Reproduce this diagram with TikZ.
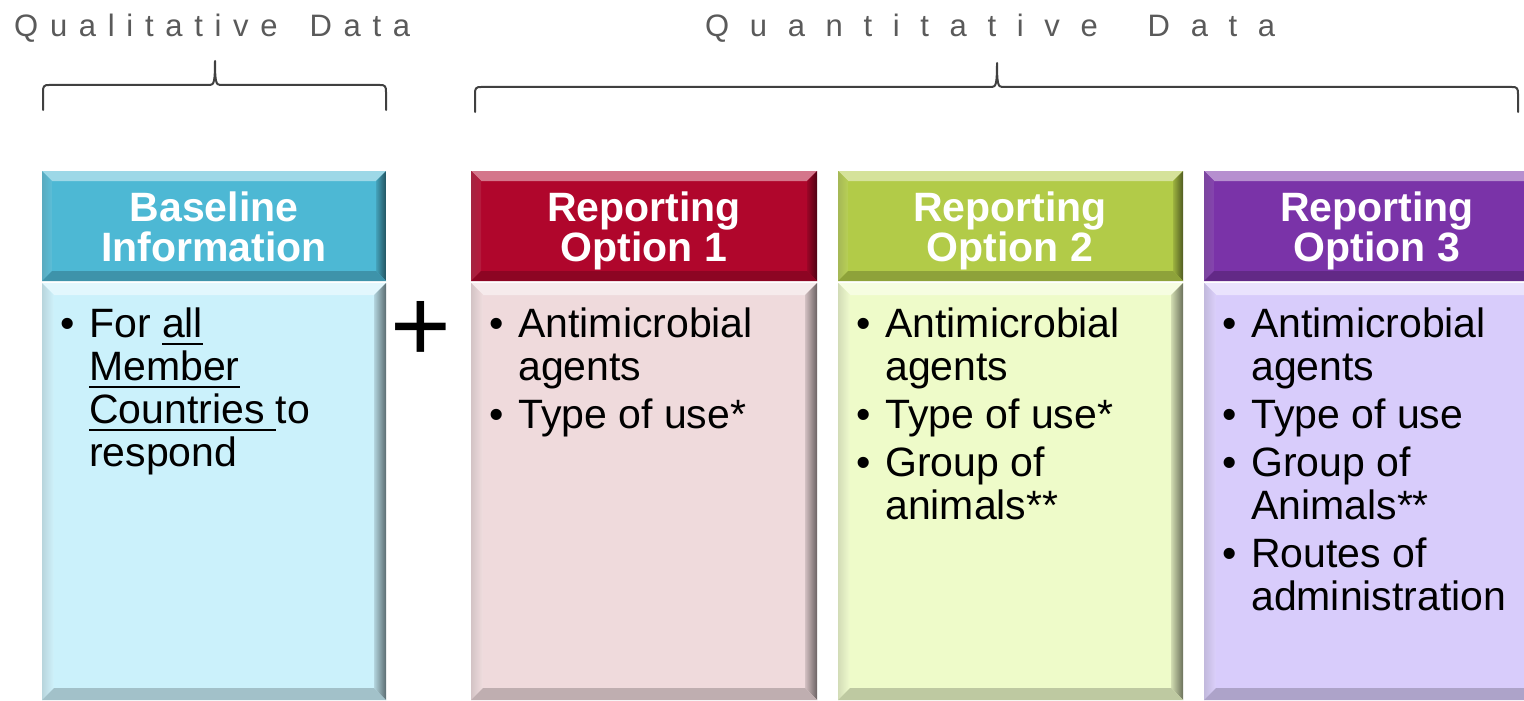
\documentclass[tikz,border=0pt]{standalone}
\usepackage{fontspec}
\setmainfont{Liberation Sans}
\definecolor{titlegray}{HTML}{5A5A5A}
\definecolor{bracegray}{HTML}{404040}
\definecolor{cyanH}{HTML}{4DB8D4}
\definecolor{cyanB}{HTML}{CBF1FB}
\definecolor{redH}{HTML}{B0062C}
\definecolor{redB}{HTML}{EFDADC}
\definecolor{greenH}{HTML}{B2CB48}
\definecolor{greenB}{HTML}{EEFBC9}
\definecolor{purpH}{HTML}{7A33A8}
\definecolor{purpB}{HTML}{D8CCFB}
\newcommand\myul[1]{\setbox0\hbox{#1}\rlap{\rule[-8pt]{\wd0}{2.5pt}}\box0}
% bevelled panel: x1,y1,x2,y2,colour,bevel
\newcommand\bevpanel[6]{%
 \fill[#5] (#1,#2) rectangle (#3,#4);
 \fill[#5!55!white] (#1,#2) -- (#3,#2) -- (#3-#6,#2+#6) -- (#1+#6,#2+#6) -- cycle;
 \shade[left color=#5!75!gray, right color=#5!92!white] (#1,#2) -- (#1+#6,#2+#6) -- (#1+#6,#4-#6) -- (#1,#4) -- cycle;
 \shade[left color=#5!88!black, right color=#5!45!black] (#3,#2) -- (#3-#6,#2+#6) -- (#3-#6,#4-#6) -- (#3,#4) -- cycle;
 \fill[#5!80!black] (#1,#4) -- (#3,#4) -- (#3-#6,#4-#6) -- (#1+#6,#4-#6) -- cycle;
}
\tikzset{
 hdrtxt/.style={anchor=base, inner sep=0pt, text=white, font=\fontsize{41}{41}\selectfont\bfseries},
 bodytxt/.style={anchor=base west, inner sep=0pt, text=black, font=\fontsize{41}{41}\selectfont},
 ttl/.style={anchor=base west, inner sep=0pt, text=titlegray, font=\fontsize{31}{31}\selectfont},
 bracestyle/.style={draw=bracegray, line width=2pt, line join=round, line cap=round}
}
\begin{document}
\begin{tikzpicture}[x=1pt,y=-1pt]
\useasboundingbox (0,0) rectangle (1524,701);
\fill[white] (0,0) rectangle (1524,701);
% titles
\node[ttl] (qual) at (14,37) {\makebox[396pt][s]{Q\hfil u\hfil a\hfil l\hfil i\hfil t\hfil a\hfil t\hfil i\hfil v\hfil e\hfil\ \hfil D\hfil a\hfil t\hfil a}};
\node[ttl] (quant) at (705,37) {\makebox[570pt][s]{Q\hfil u\hfil a\hfil n\hfil t\hfil i\hfil t\hfil a\hfil t\hfil i\hfil v\hfil e\hfil\ \hfil D\hfil a\hfil t\hfil a}};
% braces
\coordinate (qlL) at (43,110);
\coordinate (qlR) at (386,110);
\coordinate (qnL) at (475,112);
\coordinate (qnR) at (1518,112);
\draw[bracestyle] (qlL) -- (43,92) .. controls (43,86) and (44,85) .. (49,85) -- (210,85) .. controls (214,85) and (215,81) .. (215,61) .. controls (215,81) and (216,85) .. (220,85) -- (380,85) .. controls (385,85) and (386,86) .. (386,92) -- (qlR);
\draw[bracestyle] (qnL) -- (475,94) .. controls (475,88) and (476,87) .. (481,87) -- (992,87) .. controls (996,87) and (997,83) .. (997,63) .. controls (997,83) and (998,87) .. (1002,87) -- (1512,87) .. controls (1517,87) and (1518,88) .. (1518,94) -- (qnR);
% panels
\bevpanel{42}{171}{386}{281}{cyanH}{10}
\bevpanel{42}{283}{386}{700}{cyanB}{12}
\bevpanel{471}{171}{817}{281}{redH}{10}
\bevpanel{471}{283}{817}{700}{redB}{12}
\bevpanel{838}{171}{1183}{281}{greenH}{10}
\bevpanel{838}{283}{1183}{700}{greenB}{12}
\bevpanel{1204}{171}{1550}{281}{purpH}{10}
\bevpanel{1204}{283}{1550}{700}{purpB}{12}
% headers
\node[hdrtxt] (h1a) at (214,221) {Baseline};
\node[hdrtxt] (h1b) at (214,261) {Information};
\node[hdrtxt] (h2a) at (644,221) {Reporting};
\node[hdrtxt] (h2b) at (644,261) {Option 1};
\node[hdrtxt] (h3a) at (1010,221) {Reporting};
\node[hdrtxt] (h3b) at (1010,261) {Option 2};
\node[hdrtxt] (h4a) at (1377,221) {Reporting};
\node[hdrtxt] (h4b) at (1377,261) {Option 3};
% plus
\node[anchor=base west, inner sep=0pt, font=\fontsize{104}{104}\selectfont] (plus) at (390,361) {+};
% box 1 body
\node[bodytxt] (b1bul) at (60,337) {•};
\node[bodytxt] (b1l1) at (89,337) {For \myul{all}};
\node[bodytxt] (b1l2) at (89,380) {\myul{Member}};
\node[bodytxt] (b1l3) at (89,423) {\myul{Countries\ }to};
\node[bodytxt] (b1l4) at (89,466) {respond};
% box 2 body
\node[bodytxt] (b2bul1) at (489,337) {•};
\node[bodytxt] (b2l1) at (518,337) {Antimicrobial};
\node[bodytxt] (b2l2) at (518,380) {agents};
\node[bodytxt] (b2bul2) at (489,428) {•};
\node[bodytxt] (b2l3) at (518,428) {Type of use*};
% box 3 body
\node[bodytxt] (b3bul1) at (856,337) {•};
\node[bodytxt] (b3l1) at (885,337) {Antimicrobial};
\node[bodytxt] (b3l2) at (885,380) {agents};
\node[bodytxt] (b3bul2) at (856,428) {•};
\node[bodytxt] (b3l3) at (885,428) {Type of use*};
\node[bodytxt] (b3bul3) at (856,476) {•};
\node[bodytxt] (b3l4) at (885,476) {Group of};
\node[bodytxt] (b3l5) at (885,519) {animals**};
% box 4 body
\node[bodytxt] (b4bul1) at (1222,337) {•};
\node[bodytxt] (b4l1) at (1251,337) {Antimicrobial};
\node[bodytxt] (b4l2) at (1251,380) {agents};
\node[bodytxt] (b4bul2) at (1222,428) {•};
\node[bodytxt] (b4l3) at (1251,428) {Type of use};
\node[bodytxt] (b4bul3) at (1222,476) {•};
\node[bodytxt] (b4l4) at (1251,476) {Group of};
\node[bodytxt] (b4l5) at (1251,519) {Animals**};
\node[bodytxt] (b4bul4) at (1222,567) {•};
\node[bodytxt] (b4l6) at (1251,567) {Routes of};
\node[bodytxt] (b4l7) at (1251,610) {administration};
\end{tikzpicture}
\end{document}
